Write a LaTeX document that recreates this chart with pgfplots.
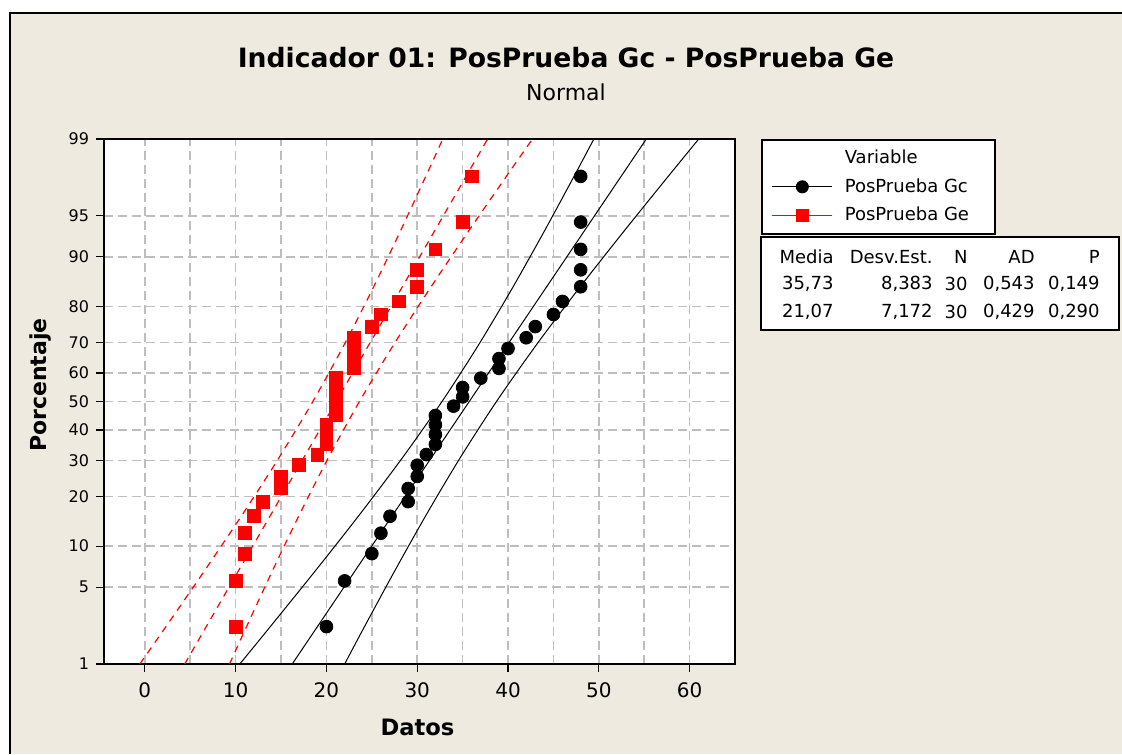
\documentclass[border=0pt]{standalone}
\usepackage{pgfplots}
\usepackage{pgfplotstable}
\pgfplotsset{compat=1.18}
\usepackage{fontspec}
\setmainfont{DejaVu Sans}

\definecolor{mtbg}{RGB}{238,234,224}
\definecolor{mtgrid}{RGB}{190,190,190}

% x = dato, z = cuantil normal de la posicion (i-0.3)/(n+0.4)
\pgfplotstableread{
x z
20 -1.995
22 -1.590
25 -1.348
26 -1.167
27 -1.017
29 -0.887
29 -0.771
30 -0.664
30 -0.565
31 -0.470
32 -0.380
32 -0.293
32 -0.207
32 -0.124
34 -0.041
35 0.041
35 0.124
37 0.207
39 0.293
39 0.380
40 0.470
42 0.565
43 0.664
45 0.771
46 0.887
48 1.017
48 1.167
48 1.348
48 1.590
48 1.995
}\gc

\pgfplotstableread{
x z
10 -1.995
10 -1.590
11 -1.348
11 -1.167
12 -1.017
13 -0.887
15 -0.771
15 -0.664
17 -0.565
19 -0.470
20 -0.380
20 -0.293
20 -0.207
21 -0.124
21 -0.041
21 0.041
21 0.124
21 0.207
23 0.293
23 0.380
23 0.470
23 0.565
25 0.664
26 0.771
28 0.887
30 1.017
30 1.167
32 1.348
35 1.590
36 1.995
}\ge

% ajuste y bandas de confianza 95%: z, inferior, centro, superior
\pgfplotstableread{
z lo mid hi
-2.3263 10.457 16.231 22.005
-2.0 13.768 18.964 24.160
-1.5 18.783 23.156 27.529
-1.0 23.673 27.347 31.021
-0.5 28.357 31.539 34.721
0.0 32.730 35.730 38.730
0.5 36.740 39.922 43.104
1.0 40.439 44.113 47.787
1.5 43.932 48.305 52.678
2.0 47.300 52.496 57.692
2.3263 49.455 55.229 61.003
}\gcfit

\pgfplotstableread{
z lo mid hi
-2.3263 -0.552 4.388 9.328
-2.0 2.281 6.726 11.171
-1.5 6.571 10.312 14.053
-1.0 10.755 13.898 17.041
-0.5 14.762 17.484 20.206
0.0 18.504 21.070 23.636
0.5 21.934 24.656 27.378
1.0 25.099 28.242 31.385
1.5 28.087 31.828 35.569
2.0 30.969 35.414 39.859
2.3263 32.812 37.752 42.692
}\gefit

\begin{document}
\begin{tikzpicture}[x=1pt,y=1pt]
\path[use as bounding box, fill=white] (0,0) rectangle (561,377);
\fill[mtbg] (5,0) rectangle (561,370.5);
\draw[line width=1.1pt] (5,0) -- (5,370.5) -- (561,370.5);

\node[font=\bfseries\fontsize{13.3}{15}\selectfont] at (283,348) {Indicador 01: PosPrueba Gc - PosPrueba Ge};
\node[font=\fontsize{11}{12}\selectfont] at (283,331) {Normal};

\begin{axis}[
    at={(52pt,45pt)}, anchor=south west,
    width=315.5pt, height=262.5pt, scale only axis,
    axis background/.style={fill=white},
    xmin=-4.5, xmax=65,
    ymin=-2.3263, ymax=2.3263,
    xtick={0,10,20,30,40,50,60},
    minor xtick={-5,5,15,25,35,45,55,65},
    ytick={-2.3263,-1.6449,-1.2816,-0.8416,-0.5244,-0.2533,0,0.2533,0.5244,0.8416,1.2816,1.6449,2.3263},
    yticklabels={1,5,10,20,30,40,50,60,70,80,90,95,99},
    tick pos=left, tick align=outside,
    major tick length=4pt, minor tick length=0pt,
    xmajorgrids, xminorgrids, ymajorgrids,
    grid style={mtgrid, line width=0.8pt, dash pattern=on 4.5pt off 2.5pt},
    minor grid style={mtgrid, line width=0.8pt, dash pattern=on 4.5pt off 2.5pt},
    axis line style={line width=0.8pt},
    every tick/.style={black, line width=0.6pt},
    /pgf/number format/assume math mode=true,
    x tick label style={font=\fontsize{10}{12}\selectfont, yshift=-2pt},
    y tick label style={font=\fontsize{8}{10}\selectfont},
    xlabel={\textbf{Datos}},
    ylabel={\textbf{Porcentaje}},
    xlabel style={at={(axis description cs:0.4968,-0.12)}, anchor=center, font=\fontsize{11.3}{13}\selectfont},
    ylabel style={at={(axis description cs:-0.1014,0.531)}, anchor=center, font=\fontsize{11}{13}\selectfont},
    legend cell align=left,
    legend image code/.code={\draw[mark repeat=2,mark phase=2,#1] plot coordinates {(0pt,0pt) (15pt,0pt) (30pt,0pt)};},
    legend style={at={(1.0412,1)}, anchor=north west, draw=black, line width=0.8pt, fill=white,
      font=\fontsize{9}{11}\selectfont, inner xsep=5pt, inner ysep=5pt,
      row sep=6pt, column sep=6pt, nodes={inner sep=0pt, anchor=west}},
  ]
  \addlegendimage{empty legend}
  \addlegendentry{Variable}
  \addlegendimage{black, line width=0.5pt, solid, mark=*, mark size=3pt}
  \addlegendentry{\makebox[70pt][l]{PosPrueba Gc}}
  \addlegendimage{red, line width=0.5pt, solid, mark=square*, mark size=3pt}
  \addlegendentry{\makebox[70pt][l]{PosPrueba Ge}}

  % bandas Gc
  \addplot[black, line width=0.5pt, smooth, forget plot] table[x=lo, y=z] {\gcfit};
  \addplot[black, line width=0.5pt, forget plot] table[x=mid, y=z] {\gcfit};
  \addplot[black, line width=0.5pt, smooth, forget plot] table[x=hi, y=z] {\gcfit};
  % bandas Ge
  \addplot[red, line width=0.6pt, smooth, dash pattern=on 3.5pt off 3pt, forget plot] table[x=lo, y=z] {\gefit};
  \addplot[red, line width=0.6pt, dash pattern=on 3.5pt off 3pt, forget plot] table[x=mid, y=z] {\gefit};
  \addplot[red, line width=0.6pt, smooth, dash pattern=on 3.5pt off 3pt, forget plot] table[x=hi, y=z] {\gefit};

  \addplot[only marks, mark=*, mark size=3.2pt, black, forget plot] table[x=x, y=z] {\gc};
  \addplot[only marks, mark=square*, mark size=3.2pt, red, forget plot] table[x=x, y=z] {\ge};
\end{axis}

% tabla de estadisticos
\draw[line width=0.8pt, fill=white] (380.5,258.5) rectangle (559.5,212);
\begin{scope}[every node/.style={anchor=east, inner sep=0pt, font=\fontsize{9}{11}\selectfont}]
  \node at (417,248.5) {Media};
  \node at (466.5,248.5) {Desv.Est.};
  \node at (484,248.5) {N};
  \node at (517.5,248.5) {AD};
  \node at (550,248.5) {P};
  \node at (417,235) {35,73};
  \node at (466.5,235) {8,383};
  \node at (484,235) {30};
  \node at (517.5,235) {0,543};
  \node at (550,235) {0,149};
  \node at (417,221) {21,07};
  \node at (466.5,221) {7,172};
  \node at (484,221) {30};
  \node at (517.5,221) {0,429};
  \node at (550,221) {0,290};
\end{scope}
\end{tikzpicture}
\end{document}
